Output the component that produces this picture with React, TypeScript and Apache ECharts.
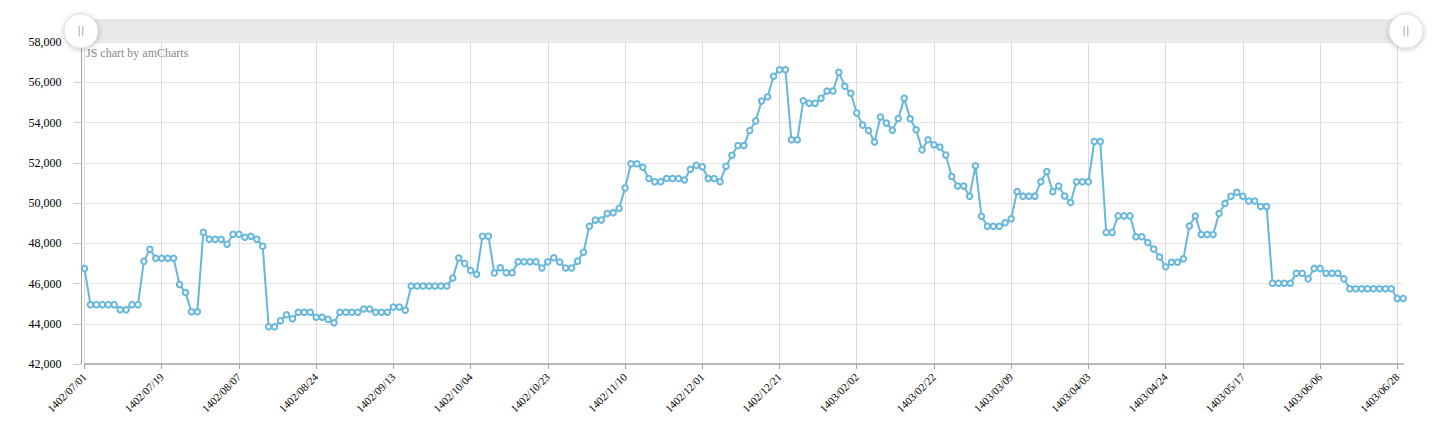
import React, { useEffect, useRef } from "react";
import * as echarts from "echarts";

// Tick labels shown on the category axis (every 13th trading day)
const tickLabels = [
  "1402/07/01", "1402/07/19", "1402/08/07", "1402/08/24", "1402/09/13", "1402/10/04",
  "1402/10/23", "1402/11/10", "1402/12/01", "1402/12/21", "1403/02/02", "1403/02/22",
  "1403/03/09", "1403/04/03", "1403/04/24", "1403/05/17", "1403/06/06", "1403/06/28",
];
const lastCategory = "1403/06/31";
const tickStep = 13;

// Closing prices, one per trading day
const prices = [
  46750, 44950, 44950, 44950, 44950, 44950, 44700, 44700, 44950, 44950,
  47100, 47700, 47250, 47250, 47250, 47250, 45950, 45550, 44600, 44600,
  48550, 48200, 48200, 48200, 47950, 48450, 48450, 48300, 48350, 48200,
  47850, 43850, 43850, 44150, 44450, 44250, 44570, 44570, 44570, 44320,
  44320, 44220, 44050, 44570, 44570, 44570, 44570, 44730, 44730, 44570,
  44570, 44570, 44830, 44830, 44670, 45880, 45880, 45880, 45880, 45880,
  45880, 45880, 46270, 47270, 47000, 46650, 46460, 48350, 48350, 46520,
  46780, 46530, 46530, 47080, 47080, 47080, 47080, 46770, 47080, 47280,
  47070, 46770, 46770, 47110, 47550, 48850, 49150, 49150, 49480, 49520,
  49740, 50740, 51950, 51950, 51780, 51220, 51060, 51060, 51220, 51220,
  51220, 51140, 51680, 51870, 51800, 51220, 51220, 51060, 51830, 52370,
  52860, 52860, 53600, 54080, 55070, 55280, 56300, 56620, 56620, 53140,
  53140, 55080, 54960, 54960, 55200, 55560, 55560, 56500, 55800, 55450,
  54470, 53870, 53600, 53030, 54270, 53970, 53620, 54200, 55200, 54190,
  53640, 52640, 53140, 52890, 52780, 52380, 51320, 50840, 50840, 50340,
  51850, 49340, 48840, 48840, 48840, 49020, 49220, 50570, 50340, 50340,
  50340, 51060, 51560, 50560, 50840, 50350, 50020, 51060, 51060, 51060,
  53060, 53060, 48540, 48540, 49360, 49360, 49360, 48320, 48320, 48040,
  47710, 47320, 46830, 47060, 47060, 47230, 48860, 49350, 48430, 48430,
  48430, 49480, 49980, 50330, 50530, 50330, 50100, 50100, 49830, 49830,
  46010, 46010, 46010, 46010, 46510, 46510, 46230, 46750, 46750, 46510,
  46510, 46510, 46230, 45740, 45740, 45740, 45740, 45740, 45740, 45740,
  45740, 45260, 45260,
];

const yMin = 42000;
const yMax = 58000;
const yStep = 2000;

// Jalali month lengths for 1402 (Esfand 29 days)
const monthLen = [31, 31, 31, 31, 31, 31, 30, 30, 30, 30, 30, 29];
const pad = (n: number) => (n < 10 ? "0" + n : "" + n);
function toDay(s: string): number {
  const [y, m, d] = s.split("/").map(Number);
  let n = (y - 1402) * 365;
  for (let i = 0; i < m - 1; i++) n += monthLen[i];
  return n + d - 1;
}
function fromDay(n: number): string {
  let y = 1402;
  if (n >= 365) { y = 1403; n -= 365; }
  let m = 0;
  while (m < 11 && n >= monthLen[m]) { n -= monthLen[m]; m++; }
  return `${y}/${pad(m + 1)}/${pad(n + 1)}`;
}
const categories: string[] = [];
for (let k = 0; k < tickLabels.length - 1; k++) {
  const a = toDay(tickLabels[k]);
  const b = toDay(tickLabels[k + 1]);
  for (let j = 0; j < tickStep; j++) {
    categories.push(j === 0 ? tickLabels[k] : fromDay(Math.round(a + ((b - a) * j) / tickStep)));
  }
}
categories.push(tickLabels[tickLabels.length - 1]);
categories.push(lastCategory);

const FONT = "'Liberation Serif', 'Times New Roman', serif";
const BLUE = "#67b7dc";

export default function App() {
  const ref = useRef<HTMLDivElement>(null);
  useEffect(() => {
    if (!ref.current) return;
    const chart = echarts.init(ref.current, null, { renderer: "svg" });
    const handle = (cx: number) => [
      {
        type: "circle",
        z: 20,
        shape: { cx, cy: 31, r: 17 },
        style: {
          fill: "#ffffff",
          stroke: "#dddddd",
          lineWidth: 1,
          shadowBlur: 5,
          shadowColor: "rgba(0,0,0,0.25)",
          shadowOffsetY: 1,
        },
      },
      { type: "line", z: 21, shape: { x1: cx - 1.8, y1: 26, x2: cx - 1.8, y2: 36.5 }, style: { stroke: "#aaaaaa", lineWidth: 1 } },
      { type: "line", z: 21, shape: { x1: cx + 1.8, y1: 26, x2: cx + 1.8, y2: 36.5 }, style: { stroke: "#aaaaaa", lineWidth: 1 } },
    ];
    chart.setOption({
      animation: false,
      textStyle: { fontFamily: FONT },
      grid: { left: 84.5, right: 34.8, top: 42, bottom: 76, containLabel: false },
      xAxis: {
        type: "category",
        data: categories,
        boundaryGap: false,
        axisLine: { show: true, lineStyle: { color: "#a6a6a6", width: 1.5 } },
        axisTick: { show: true, interval: tickStep - 1, length: 5, lineStyle: { color: "#a6a6a6" } },
        axisLabel: {
          interval: tickStep - 1,
          rotate: 45,
          fontSize: 11,
          margin: 11,
          color: "#000",
          fontFamily: FONT,
        },
        splitLine: { show: true, interval: tickStep - 1, lineStyle: { color: "#dcdcdc", width: 1 } },
      },
      yAxis: {
        type: "value",
        min: yMin,
        max: yMax,
        interval: yStep,
        offset: 3,
        axisLine: { show: true, lineStyle: { color: "#a0a0a0", width: 1 } },
        axisTick: { show: true, length: 8, lineStyle: { color: "#cccccc" } },
        axisLabel: {
          margin: 20,
          fontSize: 12,
          color: "#000",
          fontFamily: FONT,
          formatter: (v: number) => v.toLocaleString("en-US"),
        },
        splitLine: { show: true, lineStyle: { color: "#e4e4e4", width: 1 } },
      },
      series: [
        {
          type: "line",
          data: prices,
          showAllSymbol: true,
          symbol: "circle",
          symbolSize: 5.5,
          lineStyle: { color: BLUE, width: 2 },
          itemStyle: { color: "#ffffff", borderColor: BLUE, borderWidth: 2 },
          emphasis: { disabled: true },
        },
      ],
      graphic: [
        {
          type: "rect",
          z: 10,
          shape: { x: 81, y: 19.5, width: 1325, height: 22 },
          style: { fill: "#e8e8e8" },
        },
        {
          type: "line",
          z: 11,
          shape: { x1: 81, y1: 19.8, x2: 1406, y2: 19.8 },
          style: { stroke: "#dedede", lineWidth: 1 },
        },
        ...handle(81),
        ...handle(1406),
        {
          type: "text",
          z: 12,
          style: {
            x: 86,
            y: 53,
            text: "JS chart by amCharts",
            fill: "#8a8a8a",
            fontSize: 12,
            fontFamily: FONT,
            verticalAlign: "middle",
            align: "left",
          },
        },
      ],
    });
    return () => chart.dispose();
  }, []);
  return (
    <div
      ref={ref}
      style={{ position: "fixed", left: 0, top: 0, width: 1438, height: 440, background: "#fff" }}
    />
  );
}
